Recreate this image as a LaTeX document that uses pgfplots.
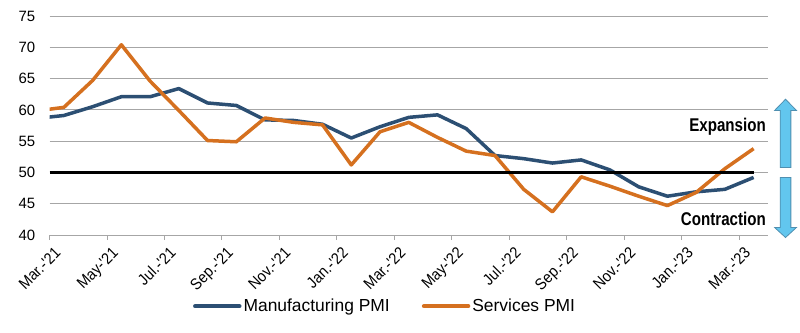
\documentclass[border=0pt]{standalone}
\usepackage{pgfplots}
\pgfplotsset{compat=1.18}
\usepackage{fontspec}
\setmainfont{Liberation Sans}
\newfontfamily\condbold[FakeStretch=0.82]{Liberation Sans Bold}
\newfontfamily\condreg[FakeStretch=0.9]{Liberation Sans}
\definecolor{mfg}{HTML}{2C4F73}
\definecolor{svc}{HTML}{D5701F}
\definecolor{gridc}{HTML}{A6A6A6}
\definecolor{arrfill}{HTML}{62C6EE}
\definecolor{arrline}{HTML}{4F8FB0}
\begin{document}
\begin{tikzpicture}
\useasboundingbox (-49.5bp,-98bp) rectangle (750.5bp,235bp);
\begin{axis}[
  at={(0,0)}, anchor=south west,
  scale only axis, width=718.5bp, height=219bp,
  xmin=-0.5, xmax=24.5, ymin=40, ymax=75,
  clip mode=individual,
  axis x line*=bottom, axis y line*=left,
  x axis line style={draw=gridc, line width=0.9pt},
  y axis line style={draw=none},
  ytick={40,45,...,75},
  ymajorgrids, grid style={draw=gridc, line width=0.9pt},
  ytick style={draw=none},
  yticklabel style={anchor=east, inner sep=0pt, xshift=-9bp, font=\fontsize{15}{16}\selectfont},
  /pgf/number format/assume math mode=true,
  xtick={-0.5,1.5,...,23.5},
  xticklabels={Mar.-'21,May-'21,Jul.-'21,Sep.-'21,Nov.-'21,Jan.-'22,Mar.-'22,May-'22,Jul.-'22,Sep.-'22,Nov.-'22,Jan.-'23,Mar.-'23},
  xtick style={draw=gridc, line width=0.9pt},
  tick align=outside, major tick length=5bp,
  xticklabel style={rotate=45, anchor=north east, inner sep=1pt, xshift=0bp, yshift=-6bp, font=\condreg\fontsize{16}{18}\selectfont},
  legend columns=2,
  legend style={at={(0.467,-0.325)}, anchor=center, draw=none, fill=none,
    font=\fontsize{17.5}{20}\selectfont,
    /tikz/every even column/.append style={column sep=30bp}},
  legend image code/.code={\draw[#1, line width=4.5bp, line cap=round] (0bp,0bp) -- (44bp,0bp);},
]
\addplot[mfg, line width=3.5bp, line join=round] coordinates {
(-1,58.6) (0,59.1) (1,60.5) (2,62.1) (3,62.1) (4,63.4) (5,61.1) (6,60.7) (7,58.4) (8,58.3) (9,57.7) (10,55.5) (11,57.3) (12,58.8) (13,59.2) (14,57.0) (15,52.7) (16,52.2) (17,51.5) (18,52.0) (19,50.4) (20,47.7) (21,46.2) (22,46.9) (23,47.3) (24,49.2)};
\addlegendentry{Manufacturing PMI}
\addplot[svc, line width=3.5bp, line join=round] coordinates {
(-1,59.8) (0,60.4) (1,64.7) (2,70.4) (3,64.6) (4,59.9) (5,55.1) (6,54.9) (7,58.7) (8,58.0) (9,57.6) (10,51.2) (11,56.5) (12,58.0) (13,55.6) (14,53.4) (15,52.7) (16,47.3) (17,43.7) (18,49.3) (19,47.8) (20,46.2) (21,44.7) (22,46.8) (23,50.6) (24,53.8)};
\addlegendentry{Services PMI}
\addplot[black, line width=2.6bp, forget plot] coordinates {(-0.5,50) (24,50)};
\node[anchor=base east, inner sep=0pt, font=\condbold\fontsize{18.5}{20}\selectfont] at (axis cs:24.43,56.6) {Expansion};
\node[anchor=base east, inner sep=0pt, font=\condbold\fontsize{18.5}{20}\selectfont] at (axis cs:24.43,41.44) {Contraction};
\draw[fill=arrfill, draw=arrline, line width=0.8bp] (axis cs:24.924,50.8) -- (axis cs:24.924,59.9) -- (axis cs:24.73,59.9) -- (axis cs:25.11,61.7) -- (axis cs:25.49,59.9) -- (axis cs:25.296,59.9) -- (axis cs:25.296,50.8) -- cycle;
\draw[fill=arrfill, draw=arrline, line width=0.8bp] (axis cs:24.924,49.2) -- (axis cs:24.924,41.2) -- (axis cs:24.73,41.2) -- (axis cs:25.11,39.6) -- (axis cs:25.49,41.2) -- (axis cs:25.296,41.2) -- (axis cs:25.296,49.2) -- cycle;
\end{axis}
\end{tikzpicture}
\end{document}
